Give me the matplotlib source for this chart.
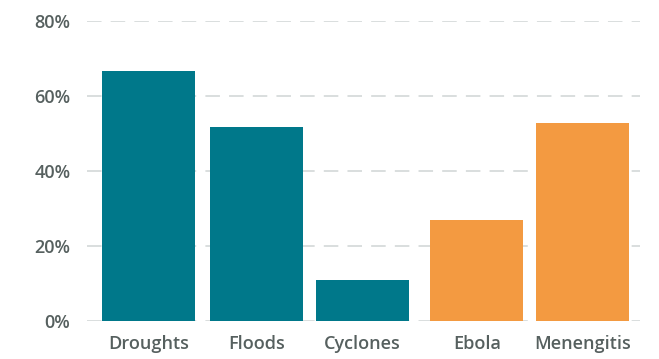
import numpy as np
import matplotlib.pyplot as plt
from matplotlib.ticker import FuncFormatter

# Share of respondents by hazard type
categories = ["Droughts", "Floods", "Cyclones", "Ebola", "Menengitis"]
values = [66.7, 51.7, 10.9, 26.9, 52.8]
groups = ["climate", "climate", "climate", "health", "health"]

colors = {"climate": "#00788a", "health": "#f39a41"}
text_color = "#56605f"

plt.rcParams['font.family'] = ['Open Sans', 'DejaVu Sans']

fig = plt.figure(figsize=(6.59, 3.59), dpi=100)
ax = fig.add_axes([0.132, 0.1058, 0.839, 0.8357])

# slots are a little uneven, with a wider gap between the two groups
pos = np.arange(len(categories), dtype=float)
pos[1:] += 0.02
pos[3:] += 0.08

ax.bar(pos, values, width=0.88, color=[colors[g] for g in groups], zorder=3)

ax.set_ylim(0, 80)
ax.set_xlim(-0.58, 4.64)
ax.set_yticks([0, 20, 40, 60, 80])
ax.yaxis.set_major_formatter(FuncFormatter(lambda v, _: f"{v:.0f}%"))
ax.set_xticks(pos)
ax.set_xticklabels(categories)

ax.grid(axis='y', color='#cfd4d4', linewidth=1.1, dashes=(9.5, 6), zorder=0)
ax.grid(axis='x', visible=False)
for s in ax.spines.values():
    s.set_visible(False)

ax.tick_params(axis='both', length=0, colors=text_color, labelsize=13)
ax.tick_params(axis='y', pad=12)
ax.tick_params(axis='x', pad=10)
for lab in ax.get_xticklabels() + ax.get_yticklabels():
    lab.set_fontweight('semibold')

fig.savefig("out.png", dpi=100)
